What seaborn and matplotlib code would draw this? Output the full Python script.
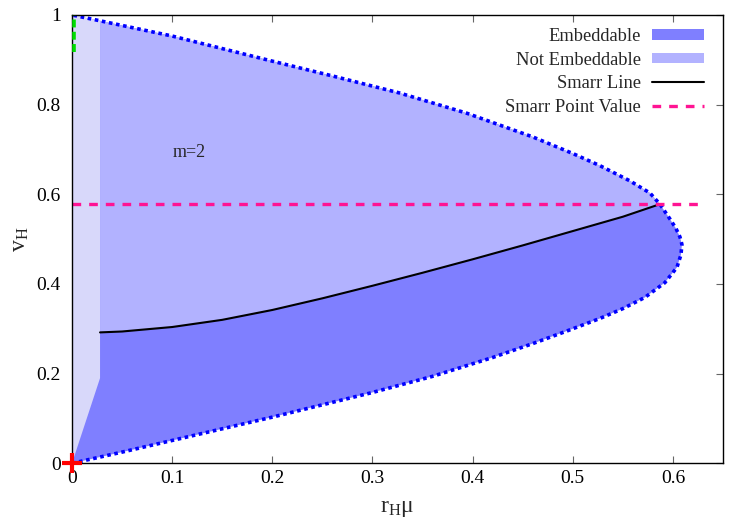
import numpy as np
import pandas as pd
import matplotlib
matplotlib.use("Agg")
import matplotlib.pyplot as plt
import seaborn as sns
from matplotlib.patches import Patch
from matplotlib.lines import Line2D
from matplotlib.ticker import FuncFormatter

# --- data ------------------------------------------------------------------
# boundary of the domain, lower branch (origin -> tip)
lower_x = [0.0, 0.05, 0.1, 0.2, 0.3, 0.36, 0.42, 0.46, 0.494, 0.527, 0.55, 0.572, 0.592, 0.604, 0.608]
lower_v = [0.0, 0.025, 0.051, 0.103, 0.158, 0.194, 0.236, 0.267, 0.295, 0.323, 0.345, 0.370, 0.403, 0.437, 0.465]
# upper branch (tip -> v=1)
upper_x = [0.609, 0.607, 0.603, 0.597, 0.587, 0.577, 0.557, 0.527, 0.50, 0.46, 0.394, 0.327, 0.26, 0.2, 0.1, 0.028, 0.0]
upper_v = [0.488, 0.505, 0.524, 0.545, 0.578, 0.603, 0.630, 0.664, 0.691, 0.728, 0.781, 0.826, 0.864, 0.897, 0.953, 0.987, 1.0]

# Smarr line
smarr_x = [0.028, 0.05, 0.1, 0.15, 0.2, 0.25, 0.3, 0.35, 0.4, 0.45, 0.5, 0.55, 0.587]
smarr_v = [0.292, 0.294, 0.304, 0.320, 0.342, 0.368, 0.396, 0.425, 0.455, 0.486, 0.518, 0.550, 0.578]

smarr_point_v = 0.578
smarr_point_xmax = 0.63

# thin strip near x=0
strip_x = 0.028
strip_top = 0.987
strip_low = 0.19

# green segment on the axis
green_v = [0.918, 1.0]

c_emb = "#7f7fff"
c_not = "#b2b2ff"
c_strip = "#d8d8fa"

# --- style ------------------------------------------------------------------
sns.set_style("ticks")
plt.rcParams["font.family"] = ["Liberation Serif", "DejaVu Serif"]
plt.rcParams["mathtext.fontset"] = "custom"
plt.rcParams["mathtext.rm"] = "Liberation Serif"
plt.rcParams["mathtext.it"] = "Liberation Serif:italic"

fig = plt.figure(figsize=(7.5, 5.25), dpi=100)
ax = fig.add_axes([0.096, 0.1175, 0.868, 0.854])

# whole domain = embeddable colour
dom_x = lower_x + upper_x
dom_v = lower_v + upper_v
ax.fill(dom_x, dom_v, color=c_emb, lw=0, zorder=1)

# not embeddable: above Smarr line, below upper branch (from Smarr point to the strip)
i0 = upper_x.index(0.587)
i1 = upper_x.index(strip_x)
up_part_x = upper_x[i0:i1 + 1]
up_part_v = upper_v[i0:i1 + 1]
ax.fill(up_part_x + smarr_x, up_part_v + smarr_v, color=c_not, lw=0, zorder=2)

# strip
ax.fill([0, strip_x, strip_x, 0], [0, strip_low, strip_top, 1.0], color=c_strip, lw=0, zorder=3)

# boundary (dotted)
bnd = pd.DataFrame({"x": dom_x, "v": dom_v})
sns.lineplot(data=bnd, x="x", y="v", sort=False, estimator=None, color="#0000ff",
             lw=2.6, ax=ax, zorder=5)
ax.lines[-1].set_dashes([1.0, 1.0])

# Smarr line
sm = pd.DataFrame({"x": smarr_x, "v": smarr_v})
sns.lineplot(data=sm, x="x", y="v", sort=False, estimator=None, color="black", lw=1.5, ax=ax, zorder=4)

# Smarr point value
ax.plot([0, smarr_point_xmax], [smarr_point_v, smarr_point_v], color="#ff1493", lw=2.4,
        dashes=(2.6, 2.4), zorder=6)

# green dashed segment and red cross (drawn over the spine)
ax.plot([0.0015, 0.0015], green_v, color="#00dd00", lw=2.6, dashes=(2.2, 1.2), zorder=11, clip_on=False)
ax.plot([0], [0], marker="+", color="red", ms=15, mew=3, zorder=12, clip_on=False)

ax.text(0.101, 0.694, "m=2", fontsize=13, va="center", ha="left", zorder=9)

ax.set_xlim(0, 0.65)
ax.set_ylim(0, 1)
ax.set_xticks([0, 0.1, 0.2, 0.3, 0.4, 0.5, 0.6])
ax.set_yticks([0, 0.2, 0.4, 0.6, 0.8, 1.0])
fmt = FuncFormatter(lambda v, p: f"{v:g}")
ax.xaxis.set_major_formatter(fmt)
ax.yaxis.set_major_formatter(fmt)
ax.tick_params(direction="in", length=5, width=0.8, color="#666666", labelsize=14,
               top=True, right=True, labelcolor="black")
ax.tick_params(axis="x", pad=5)
ax.tick_params(axis="y", pad=8)
for s in ax.spines.values():
    s.set_visible(True)
    s.set_linewidth(1.0)
    s.set_color("black")
    s.set_zorder(10)

ax.set_xlabel("r$_\\mathrm{H}$μ", fontsize=17, labelpad=8)
ax.set_ylabel("v$_\\mathrm{H}$", fontsize=17, labelpad=4)

handles = [
    Patch(facecolor=c_emb, edgecolor="none"),
    Patch(facecolor=c_not, edgecolor="none"),
    Line2D([], [], color="black", lw=1.5),
    Line2D([], [], color="#ff1493", lw=2.4, dashes=(2.6, 2.4)),
]
labels = ["Embeddable", "Not Embeddable", "Smarr Line", "Smarr Point Value"]
ax.legend(handles, labels, loc="upper right", bbox_to_anchor=(0.99, 1.0), frameon=False,
          markerfirst=False, fontsize=13.3, handlelength=2.8, handleheight=0.5,
          labelspacing=0.36, handletextpad=0.6, borderpad=0.2)

fig.savefig("out.png", dpi=100)
